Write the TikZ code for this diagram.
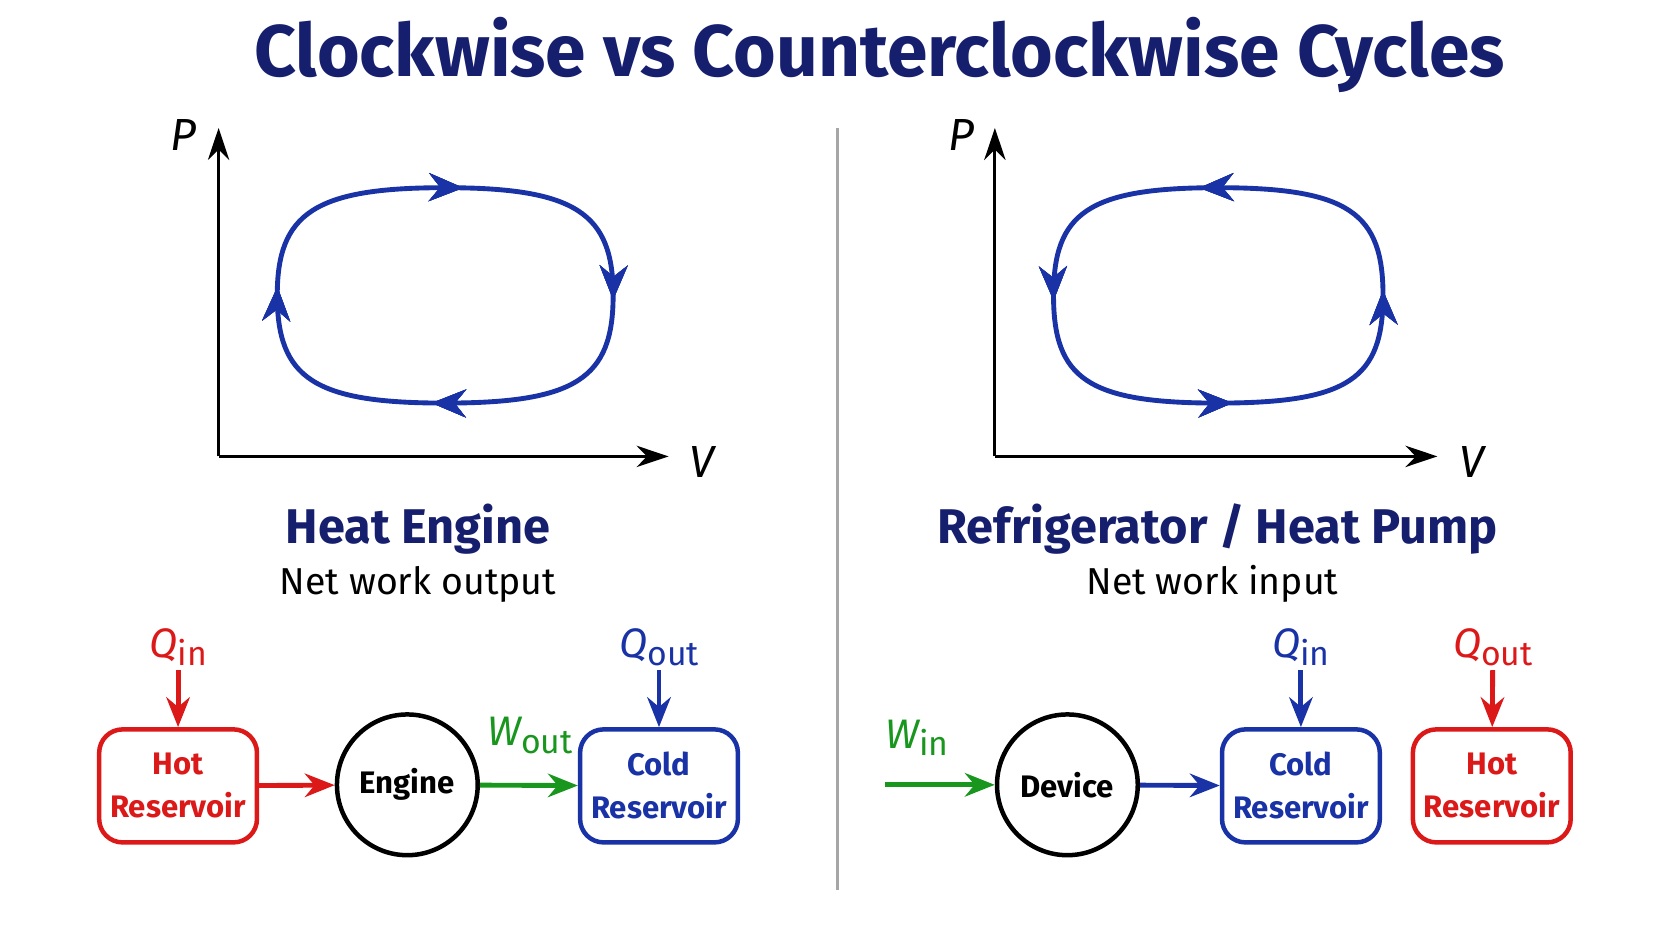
\documentclass[tikz,border=0pt]{standalone}
\usepackage{fontspec}
\setmainfont{Fira Sans}
\usetikzlibrary{arrows.meta,decorations.markings,shapes.geometric}
\definecolor{navy}{RGB}{22,30,110}
\definecolor{cblue}{RGB}{25,50,165}
\definecolor{cred}{RGB}{220,25,25}
\definecolor{cgreen}{RGB}{25,150,30}
\newcommand{\sub}[2]{{\itshape #1}\raisebox{-0.35ex}{\fontsize{9}{9}\selectfont #2}}
\begin{document}
\begin{tikzpicture}[x=0.1mm,y=-0.1mm,
  axis/.style={line width=0.8pt,-{Stealth[length=3mm,width=2mm]}},
  axlab/.style={font=\itshape\fontsize{12}{12}\selectfont},
  mk/.style={decoration={markings,
     mark=at position #1 with {\arrow{Stealth[length=3.2mm,width=2.6mm]}}},postaction={decorate}},
  loop/.style={line width=1.3pt,cblue},
  box/.style={draw,line width=1.2pt,rounded corners=2.2mm,minimum width=14.8mm,minimum height=10.6mm,inner sep=0pt,align=center,font=\fontsize{8.3}{11.5}\selectfont\bfseries},
  circ/.style={draw,circle,line width=1.2pt,minimum size=13.2mm,inner sep=0pt,font=\fontsize{8.3}{11}\selectfont\bfseries},
  arr/.style={line width=1.3pt,-{Stealth[length=2.8mm,width=2.2mm]}},
  qlab/.style={font=\fontsize{11}{12}\selectfont,inner sep=1pt}]
\useasboundingbox (0,0) rectangle (1568,882);
\node[font=\fontsize{19.5}{20}\selectfont\bfseries,text=navy] (title) at (825,52) {Clockwise vs Counterclockwise Cycles};
\draw[gray!70,line width=0.8pt] (785,120) -- (785,835);
% left plot
\coordinate (o1) at (205,428);
\draw[axis] (o1) -- (205,120);
\draw[axis] (o1) -- (627,428);
\node[axlab] (p1) at (172,127) {P};
\node[axlab] (v1) at (658,433) {V};
\draw[loop,mk=0.02,mk=0.255,mk=0.515,mk=0.76]
  (417,176) .. controls (540,176) and (575,200) .. (575,277)
  .. controls (575,355) and (540,378) .. (417,378)
  .. controls (295,378) and (260,355) .. (260,277)
  .. controls (260,200) and (295,176) .. (417,176);
\node[font=\fontsize{13}{14}\selectfont\bfseries,text=navy] (he) at (392,496) {Heat Engine};
\node[font=\fontsize{10}{12}\selectfont] (nwo) at (392,548) {Net work output};
% right plot
\coordinate (o2) at (933,428);
\draw[axis] (o2) -- (933,120);
\draw[axis] (o2) -- (1348,428);
\node[axlab] (p2) at (902,127) {P};
\node[axlab] (v2) at (1380,433) {V};
\draw[loop,mk=0.02,mk=0.255,mk=0.515,mk=0.755]
  (1142,176) .. controls (1020,176) and (988,200) .. (988,277)
  .. controls (988,355) and (1020,378) .. (1142,378)
  .. controls (1265,378) and (1297,355) .. (1297,277)
  .. controls (1297,200) and (1265,176) .. (1142,176);
\node[font=\fontsize{13}{14}\selectfont\bfseries,text=navy] (rf) at (1142,496) {Refrigerator / Heat Pump};
\node[font=\fontsize{10}{12}\selectfont] (nwi) at (1137,548) {Net work input};
% left flow
\node[box,cred] (hot1) at (167,737) {Hot\\Reservoir};
\node[circ] (eng) at (382,736) {Engine};
\node[box,cblue] (cold1) at (618,737) {Cold\\Reservoir};
\node[qlab,text=cred] (qin1) at (167,607) {\sub{Q}{in}};
\node[qlab,text=cblue] (qout1) at (618,607) {\sub{Q}{out}};
\node[qlab,text=cgreen] (wout) at (497,690) {\sub{W}{out}};
\draw[arr,cred] (qin1) -- (hot1);
\draw[arr,cblue] (qout1) -- (cold1);
\draw[arr,cred] (hot1) -- (eng);
\draw[arr,cgreen] (eng) -- (cold1);
% right flow
\coordinate (ws) at (830,736);
\node[qlab,text=cgreen] (win) at (860,692) {\sub{W}{in}};
\node[circ] (dev) at (1001,736) {Device};
\node[box,cblue] (cold2) at (1220,737) {Cold\\Reservoir};
\node[box,cred] (hot2) at (1399,737) {Hot\\Reservoir};
\node[qlab,text=cblue] (qin2) at (1220,607) {\sub{Q}{in}};
\node[qlab,text=cred] (qout2) at (1400,607) {\sub{Q}{out}};
\draw[arr,cgreen] (ws) -- (dev);
\draw[arr,cblue] (dev) -- (cold2);
\draw[arr,cblue] (qin2) -- (cold2);
\draw[arr,cred] (qout2) -- (hot2);
\end{tikzpicture}
\end{document}
